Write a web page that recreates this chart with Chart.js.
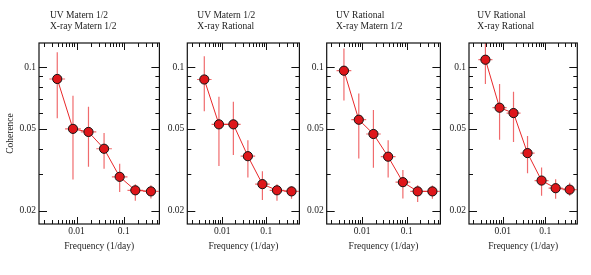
<!DOCTYPE html>
<html>
<head>
<meta charset="utf-8">
<script src="https://cdn.jsdelivr.net/npm/chart.js@4.4.0/dist/chart.umd.min.js"></script>
<style>
html, body { margin: 0; padding: 0; background: #fff; }
#wrap { position: relative; width: 591px; height: 275px; overflow: hidden; }
#wrap canvas { position: absolute; top: 0; }
</style>
</head>
<body>
<div id="wrap">
    <canvas id="panel0" width="165" height="275" style="left:0px"></canvas>
    <canvas id="panel1" width="140" height="275" style="left:165px"></canvas>
    <canvas id="panel2" width="142" height="275" style="left:304px"></canvas>
    <canvas id="panel3" width="145" height="275" style="left:446px"></canvas>
</div>
<script>
// frequency bins (1/day), shared by all panels
const freq = [0.0039, 0.0084, 0.0179, 0.0383, 0.082, 0.176, 0.377];
const freqLow = [0.00266, 0.00571, 0.0123, 0.0262, 0.0561, 0.120, 0.258];
const freqHigh = [0.00571, 0.0123, 0.0262, 0.0561, 0.120, 0.258, 0.552];

const panelTitles = [
    ['UV Matern 1/2', 'X-ray Matern 1/2'],
    ['UV Matern 1/2', 'X-ray Rational'],
    ['UV Rational', 'X-ray Matern 1/2'],
    ['UV Rational', 'X-ray Rational']
];

// coherence + error bar ends for each panel
const coh = [
    [0.0875, 0.050, 0.0483, 0.040, 0.0292, 0.0251, 0.0248],
    [0.087, 0.0526, 0.0526, 0.0368, 0.0269, 0.0251, 0.0248],
    [0.096, 0.0554, 0.0472, 0.0366, 0.0275, 0.0248, 0.0248],
    [0.1086, 0.0634, 0.0597, 0.0381, 0.028, 0.0257, 0.0253]
];
const cohHigh = [
    [0.118, 0.0725, 0.064, 0.0477, 0.0338, 0.0269, 0.0266],
    [0.113, 0.0717, 0.0677, 0.044, 0.0311, 0.0269, 0.0263],
    [0.123, 0.0743, 0.0617, 0.044, 0.0315, 0.0266, 0.0265],
    [0.133, 0.0828, 0.0759, 0.0461, 0.0324, 0.0284, 0.0273]
];
const cohLow = [
    [0.0564, 0.0283, 0.0327, 0.032, 0.0246, 0.0223, 0.0229],
    [0.061, 0.033, 0.0373, 0.029, 0.0225, 0.0223, 0.0228],
    [0.0687, 0.0359, 0.0323, 0.029, 0.0229, 0.022, 0.0228],
    [0.0828, 0.0442, 0.0432, 0.0304, 0.0236, 0.0228, 0.0236]
];

// tick values
const xMajorTicks = [0.01, 0.1];
const xMinorTicks = [0.002, 0.003, 0.004, 0.005, 0.006, 0.007, 0.008, 0.009,
    0.02, 0.03, 0.04, 0.05, 0.06, 0.07, 0.08, 0.09, 0.2, 0.3, 0.4, 0.5];
const yMajorTicks = [0.02, 0.05, 0.1];
const yMinorTicks = [0.03, 0.04, 0.06, 0.07, 0.08, 0.09];

// layout of each canvas: y-axis width, right padding, title offset
const panelLayout = [
    { yWidth: 39, padRight: 3, titleOffset: 11 },
    { yWidth: 22.3, padRight: 3.3, titleOffset: 10 },
    { yWidth: 22.7, padRight: 4, titleOffset: 9.3 },
    { yWidth: 23, padRight: 13.7, titleOffset: 8.3 }
];

const serif = '"Liberation Serif", "Times New Roman", serif';
const errColor = 'rgba(236, 70, 72, 0.8)';

const framePlugin = {
    id: 'frame',
    beforeDatasetsDraw(chart, args, opts) {
        const { ctx, chartArea: a, scales: { x, y } } = chart;
        ctx.save();
        ctx.beginPath();
        ctx.rect(a.left, a.top, a.right - a.left, a.bottom - a.top);
        ctx.clip();
        ctx.strokeStyle = errColor;
        ctx.lineWidth = 1.2;
        opts.center.forEach((v, i) => {
            const px = x.getPixelForValue(freq[i]);
            const py = y.getPixelForValue(v);
            ctx.beginPath();
            ctx.moveTo(px, y.getPixelForValue(opts.high[i]));
            ctx.lineTo(px, y.getPixelForValue(opts.low[i]));
            ctx.moveTo(x.getPixelForValue(freqLow[i]), py);
            ctx.lineTo(x.getPixelForValue(freqHigh[i]), py);
            ctx.stroke();
        });
        ctx.restore();
    },
    afterDraw(chart, args, opts) {
        const { ctx, chartArea: a, scales: { x, y } } = chart;
        ctx.save();
        ctx.strokeStyle = '#111';
        ctx.lineWidth = 1.2;
        ctx.strokeRect(a.left, a.top, a.right - a.left, a.bottom - a.top);
        ctx.lineWidth = 1;
        ctx.beginPath();
        const xt = (list, len) => list.forEach(v => {
            const px = Math.round(x.getPixelForValue(v)) + 0.5;
            ctx.moveTo(px, a.bottom); ctx.lineTo(px, a.bottom - len);
            ctx.moveTo(px, a.top); ctx.lineTo(px, a.top + len);
        });
        const yt = (list, len) => list.forEach(v => {
            const py = Math.round(y.getPixelForValue(v)) + 0.5;
            ctx.moveTo(a.left, py); ctx.lineTo(a.left + len, py);
            ctx.moveTo(a.right, py); ctx.lineTo(a.right - len, py);
        });
        xt(xMajorTicks, 7);
        xt(xMinorTicks, 4);
        yt(yMajorTicks, 8);
        yt(yMinorTicks, 4);
        ctx.stroke();

        // panel title, two lines
        ctx.fillStyle = '#222';
        ctx.font = '9.5px ' + serif;
        ctx.textAlign = 'left';
        ctx.textBaseline = 'middle';
        opts.title.forEach((line, i) => {
            ctx.fillText(line, a.left + opts.titleOffset, 15.7 + i * 11);
        });
        ctx.restore();
    }
};

panelTitles.forEach((title, p) => {
    const lay = panelLayout[p];
    const ctx = document.getElementById('panel' + p).getContext('2d');
    new Chart(ctx, {
        type: 'line',
        data: {
            datasets: [{
                data: freq.map((f, i) => ({ x: f, y: coh[p][i] })),
                borderColor: 'rgba(232, 40, 42, 1)',
                borderWidth: 1,
                backgroundColor: 'rgba(222, 22, 26, 1)',
                pointBackgroundColor: 'rgba(222, 22, 26, 1)',
                pointBorderColor: '#111',
                pointBorderWidth: 1,
                pointRadius: 4.6,
                tension: 0,
                fill: false
            }]
        },
        options: {
            responsive: false,
            animation: false,
            events: [],
            layout: {
                padding: { top: 43, right: lay.padRight, bottom: 0, left: 0 }
            },
            plugins: {
                legend: { display: false },
                tooltip: { enabled: false },
                frame: {
                    title: title,
                    titleOffset: lay.titleOffset,
                    center: coh[p],
                    high: cohHigh[p],
                    low: cohLow[p]
                }
            },
            scales: {
                x: {
                    type: 'logarithmic',
                    min: 0.0016,
                    max: 0.57,
                    grid: { display: false, drawTicks: false },
                    border: { display: false },
                    afterBuildTicks: scale => {
                        scale.ticks = xMajorTicks.map(v => ({ value: v }));
                    },
                    afterFit: scale => { scale.height = 51; },
                    ticks: {
                        padding: 2,
                        color: '#222',
                        font: { family: serif, size: 9.5 },
                        autoSkip: false,
                        maxRotation: 0,
                        callback: v => String(v)
                    },
                    title: {
                        display: true,
                        text: 'Frequency (1/day)',
                        color: '#222',
                        font: { family: serif, size: 9.5 },
                        padding: { top: 0, bottom: 22.6 }
                    }
                },
                y: {
                    type: 'logarithmic',
                    min: 0.0172,
                    max: 0.131,
                    grid: { display: false, drawTicks: false },
                    border: { display: false },
                    afterBuildTicks: scale => {
                        scale.ticks = yMajorTicks.map(v => ({ value: v }));
                    },
                    afterFit: scale => { scale.width = lay.yWidth; },
                    ticks: {
                        padding: 3,
                        color: '#222',
                        font: { family: serif, size: 9.5 },
                        autoSkip: false,
                        callback: v => String(v)
                    },
                    title: {
                        display: p === 0,
                        text: 'Coherence',
                        color: '#222',
                        font: { family: serif, size: 9.5 },
                        padding: { top: 4.6, bottom: 0 }
                    }
                }
            }
        },
        plugins: [framePlugin]
    });
});
</script>
</body>
</html>
